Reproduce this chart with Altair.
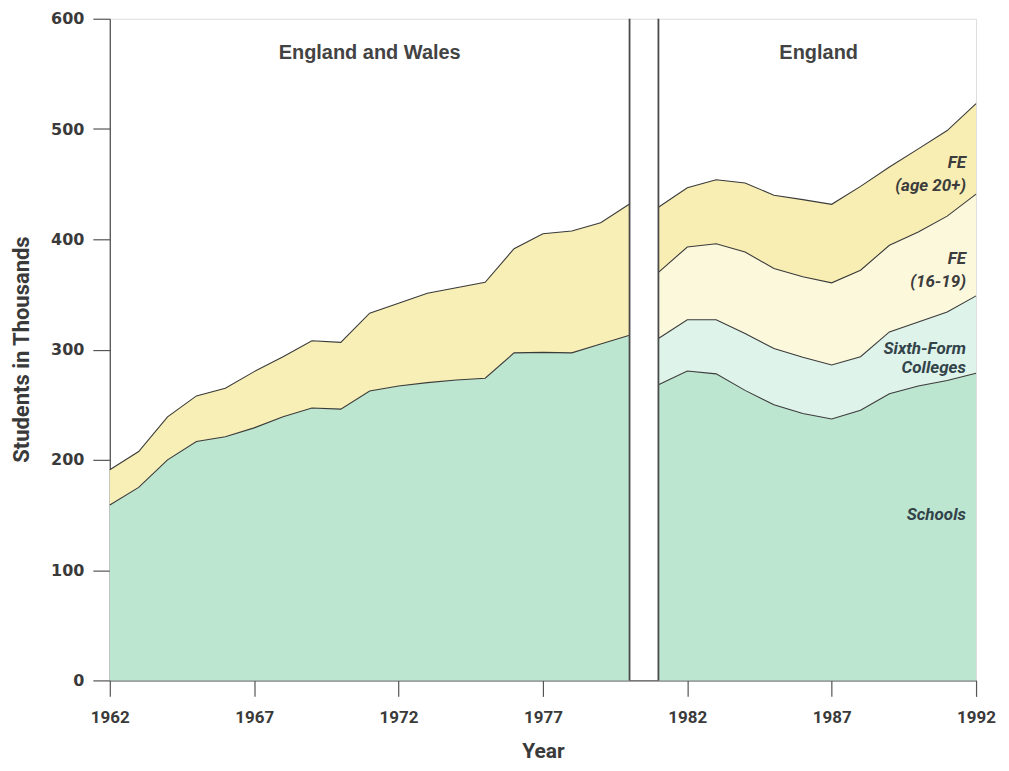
import altair as alt
import pandas as pd

# ---- data (thousands of students) ----
left_years = list(range(1962, 1981))
left_schools = [159, 175, 200, 216.6, 221, 229, 239, 247, 246, 262.5, 267, 270,
                272.4, 274, 297, 297.5, 297, 305, 313]
left_total = [191, 207.5, 239, 258, 265, 280, 293.5, 308, 306.5, 333, 342, 351,
              356, 361, 391.5, 405, 407.5, 415, 432]

right_years = list(range(1981, 1993))
right_schools = [268, 280.5, 278, 263, 250, 242, 237, 245, 260, 267, 272, 278.5]
right_sixth_top = [310, 327, 327, 314.6, 301, 293, 286, 293.5, 316, 325, 334, 348.7]
right_fe1619_top = [370, 393, 396, 388.5, 373.5, 366, 360.5, 372, 394.6, 406.6, 421, 441]
right_total = [429, 446.7, 454, 451, 440, 436, 431.7, 448, 465.5, 482, 498.6, 523]

series_names = ["Schools", "Sixth-Form Colleges", "FE (16-19)", "FE (age 20+)", "FE"]
series_colors = ["#bde6d1", "#def3e9", "#fcf8dc", "#f8eeb3", "#f8efb6"]

break_years = [1980, 1981]
x_ticks = [1962, 1967, 1972, 1977, 1982, 1987, 1992]
y_ticks = [0, 100, 200, 300, 400, 500, 600]

region_titles = ["England and Wales", "England"]
region_x = [1971.0, 1986.55]
region_y = [569, 569]

label_texts = ["FE\n(age 20+)", "FE\n(16-19)", "Sixth-Form\nColleges", "Schools"]
label_x = [1991.65, 1991.65, 1991.65, 1991.65]
label_y = [468.8, 382.5, 300.5, 149.6]
label_lh = [23, 23, 19, 16]
label_color = ["#3c3c3c", "#3c3c3c", "#33434a", "#33434a"]

# ---- build tables ----
rows = []
for i, yr in enumerate(left_years):
    rows.append(dict(year=yr, series="Schools", seg="L", lo=0, hi=left_schools[i]))
    rows.append(dict(year=yr, series="FE", seg="L", lo=left_schools[i], hi=left_total[i]))
for i, yr in enumerate(right_years):
    rows.append(dict(year=yr, series="Schools", seg="R", lo=0, hi=right_schools[i]))
    rows.append(dict(year=yr, series="Sixth-Form Colleges", seg="R",
                     lo=right_schools[i], hi=right_sixth_top[i]))
    rows.append(dict(year=yr, series="FE (16-19)", seg="R",
                     lo=right_sixth_top[i], hi=right_fe1619_top[i]))
    rows.append(dict(year=yr, series="FE (age 20+)", seg="R",
                     lo=right_fe1619_top[i], hi=right_total[i]))
df = pd.DataFrame(rows)
df["grp"] = df["series"] + "_" + df["seg"]

COND = "Roboto, Liberation Sans, sans-serif"

x_scale = alt.Scale(domain=[1962, 1992], nice=False, zero=False)
y_scale = alt.Scale(domain=[0, 600], nice=False)

x_enc = alt.X("year:Q", scale=x_scale,
              axis=alt.Axis(title="Year", values=x_ticks, format="d", grid=False,
                            tickSize=16, labelPadding=13, labelFontSize=17,
                            labelFont=COND, labelFontWeight="bold",
                            labelColor="#3a3a3a", titleFont=COND,
                            titleFontSize=21, titleFontWeight="bold",
                            titleColor="#3a3a3a", titleY=71, titleBaseline="middle",
                            domainColor="#555555", tickColor="#555555",
                            domainWidth=1.3, tickWidth=1.2, labelFlush=False))
y_enc = alt.Y("hi:Q", scale=y_scale,
              axis=alt.Axis(title="Students in Thousands", values=y_ticks, grid=False,
                            tickSize=17, labelPadding=9, labelFontSize=16,
                            labelFont="DejaVu Sans", labelFontWeight="bold",
                            labelColor="#3a3a3a", titleFont=COND,
                            titleFontSize=22, titleFontWeight="bold",
                            titleColor="#3a3a3a", titleX=-88, titleY=331,
                            titleAngle=270, titleAlign="center",
                            titleBaseline="middle", domainColor="#555555",
                            tickColor="#555555", domainWidth=1.3, tickWidth=1.2))

areas = alt.Chart(df).mark_area(opacity=1, interpolate="linear").encode(
    x=x_enc,
    y=y_enc,
    y2="lo:Q",
    color=alt.Color("series:N", scale=alt.Scale(domain=series_names, range=series_colors),
                    legend=None),
    detail="grp:N",
)

lines = alt.Chart(df).mark_line(color="#3a3a3a", strokeWidth=1.1).encode(
    x="year:Q", y="hi:Q", detail="grp:N", order="year:Q"
)

brk = pd.DataFrame({"year": break_years, "top": [600, 600], "bot": [0, 0]})
rules = alt.Chart(brk).mark_rule(color="#4a4a4a", strokeWidth=1.8).encode(
    x="year:Q", y="top:Q", y2="bot:Q"
)

titles_df = pd.DataFrame({"year": region_x, "v": region_y, "t": region_titles})
titles = alt.Chart(titles_df).mark_text(
    font="Liberation Sans, Arial, sans-serif", fontSize=20, fontWeight="bold",
    color="#434343", align="center", baseline="middle"
).encode(x="year:Q", y="v:Q", text="t:N")

lab_df = pd.DataFrame({"year": label_x, "v": label_y, "t": label_texts,
                       "c": label_color, "lh": label_lh})
label_layers = []
for i in range(len(label_texts)):
    sub = lab_df.iloc[[i]]
    label_layers.append(
        alt.Chart(sub).mark_text(
            font=COND, fontSize=17, fontWeight="bold", fontStyle="italic",
            align="right", baseline="middle", lineBreak="\n",
            lineHeight=float(label_lh[i]), color=label_color[i]
        ).encode(x="year:Q", y="v:Q", text="t:N")
    )

chart = alt.layer(areas, lines, rules, titles, *label_layers).properties(
    width=868, height=663,
    autosize=alt.AutoSizeParams(type="none"),
    padding={"left": 102, "top": 10, "right": 25, "bottom": 82},
).configure_view(stroke=None).configure(background="white")

chart.save("out.html", embed_options={"renderer": "svg", "actions": False})
